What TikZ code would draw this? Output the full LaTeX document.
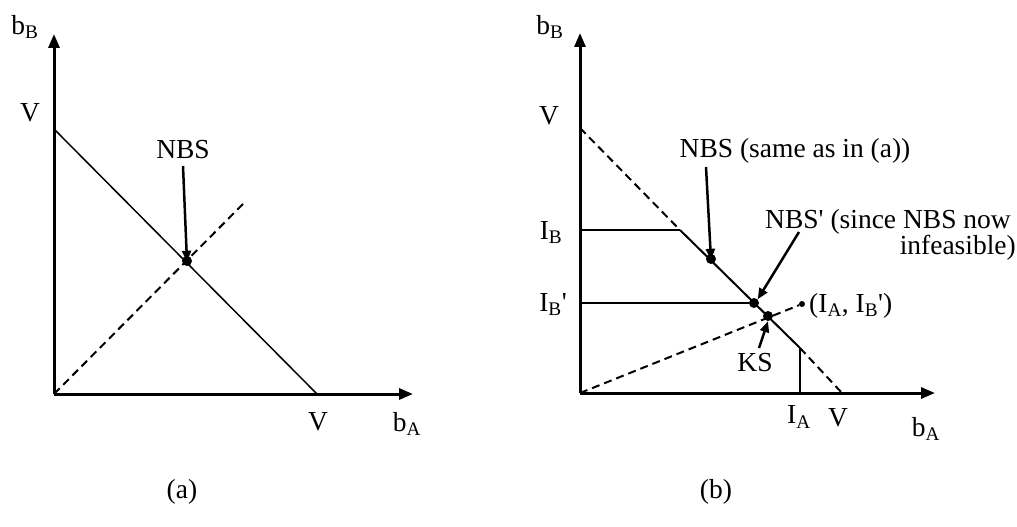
\documentclass[tikz,border=0pt]{standalone}
\usepackage{fontspec}
\setmainfont{Liberation Serif}[Ligatures=TeXOff]
\usetikzlibrary{arrows.meta}
\begin{document}
\begin{tikzpicture}[x=1pt,y=-1pt,
  axis/.style={line width=3pt,-{Triangle[length=14pt,width=11pt]}},
  thinline/.style={line width=1.5pt},
  dashline/.style={line width=2pt,dash pattern=on 8pt off 5pt},
  pointer/.style={line width=2.5pt,-{Triangle[length=11pt,width=9pt]}},
  dot/.style={circle,fill=black,inner sep=0pt,minimum size=10pt},
  smalldot/.style={circle,fill=black,inner sep=0pt,minimum size=6pt},
  lbl/.style={inner sep=1pt,font=\fontsize{27.5}{31}\selectfont},
  every node/.style={font=\fontsize{27.5}{31}\selectfont}]
\useasboundingbox (0,0) rectangle (1017,527);
% ---------- panel (a) ----------
\coordinate (aO) at (54,394);
\coordinate (aYtop) at (54,34);
\coordinate (aXend) at (413,394);
\coordinate (aV1) at (54,129);
\coordinate (aV2) at (317,394);
\coordinate (aDend) at (244,203);
\draw[dashline] (aO) -- (aDend);
\draw[thinline] (aV1) -- (aV2);
\draw[axis] (aO) -- (aYtop);
\draw[axis] (aO) -- (aXend);
\node[dot] (aNBS) at (187,261) {};
\node[lbl] (aNBSl) at (183,150) {NBS};
\draw[pointer] (183,166) -- ([yshift=-6pt]aNBS.north);
\node[lbl] (aVy) at (30,113) {V};
\node[lbl] (aVx) at (318,422) {V};
\node[lbl] (abB) at (25,27) {b\textsubscript{B}};
\node[lbl] (abA) at (407,424) {b\textsubscript{A}};
\node[lbl] (capa) at (182,492) {(a)};
% ---------- panel (b) ----------
\coordinate (bO) at (580,393);
\coordinate (bYtop) at (580,33);
\coordinate (bXend) at (935,393);
\coordinate (bV1) at (580,128);
\coordinate (bIBpt) at (680,230);
\coordinate (bIApt) at (800,348);
\coordinate (bV2) at (842,393);
\coordinate (bIBy) at (580,230);
\coordinate (bIBpy) at (580,303);
\coordinate (bIAx) at (800,393);
\draw[dashline] (bV1) -- (bIBpt);
\draw[line width=2pt] (bIBpt) -- (bIApt);
\draw[dashline] (bIApt) -- (bV2);
\draw[thinline] (bIBy) -- (bIBpt);
\draw[thinline] (bIAx) -- (bIApt);
\node[smalldot] (bEnd) at (802,304) {};
\draw[dashline] (bO) -- (bEnd);
\node[dot] (bNBS) at (711,259) {};
\node[dot] (bNBSp) at (754,303) {};
\node[dot] (bKS) at (768,316) {};
\draw[thinline] (bIBpy) -- (bNBSp);
\draw[axis] (bO) -- (bYtop);
\draw[axis] (bO) -- (bXend);
\node[lbl] (bNBSl) at (795,151) {NBS (same as in (a))};
\draw[pointer] (706,167) -- ([yshift=-6pt]bNBS.north);
\node[lbl,anchor=west] (bNBSpl) at (764,222) {NBS' (since NBS now};
\node[lbl,anchor=east] (bInf) at (1017,248) {infeasible)};
\draw[pointer] (799,232) -- (bNBSp.north east);
\node[lbl] (bKSl) at (755,363) {KS};
\draw[pointer] (759,348) -- (bKS.south);
\node[lbl,anchor=west] (bEndl) at (808,306) {(I\textsubscript{A}, I\textsubscript{B}')};
\node[lbl] (bVy) at (549,116) {V};
\node[lbl] (bIB) at (551,233) {I\textsubscript{B}};
\node[lbl] (bIBp) at (553,305) {I\textsubscript{B}'};
\node[lbl] (bIA) at (799,417) {I\textsubscript{A}};
\node[lbl] (bVx) at (838,418) {V};
\node[lbl] (bbB) at (550,27) {b\textsubscript{B}};
\node[lbl] (bbA) at (926,429) {b\textsubscript{A}};
\node[lbl] (capb) at (716,492) {(b)};
\end{tikzpicture}
\end{document}
